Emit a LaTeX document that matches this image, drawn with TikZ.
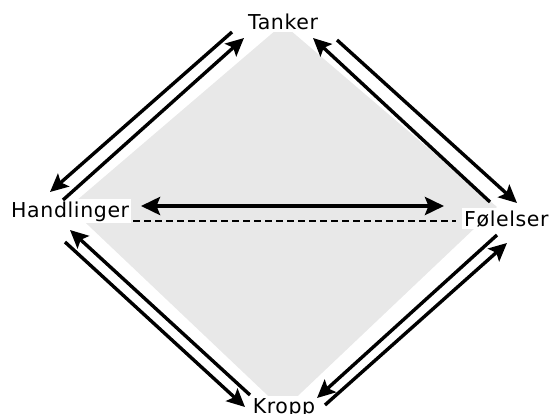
\documentclass[tikz,border=0pt]{standalone}
\usepackage{fontspec}
\usetikzlibrary{arrows.meta}
\newfontfamily\lblfont[LetterSpace=3]{DejaVu Sans}
\definecolor{diamondgray}{RGB}{232,232,232}

\tikzset{
  corner/.style={font=\lblfont\fontsize{20.5}{24}\selectfont, fill=white, inner sep=2pt},
  flow/.style={line width=3.4pt, -{Stealth[length=18pt,width=17pt,inset=3.5pt]}},
  both/.style={line width=3.8pt, {Stealth[length=19pt,width=18pt,inset=3.5pt]}-{Stealth[length=19pt,width=18pt,inset=3.5pt]}},
  axis/.style={line width=1.4pt, dash pattern=on 7pt off 4pt}
}

\begin{document}
\begin{tikzpicture}[x=1pt,y=-1pt]
  \useasboundingbox (0,0) rectangle (551,414);

  % shaded diamond behind everything
  \fill[diamondgray] (283,24) -- (497,207) -- (283,410) -- (69,207) -- cycle;

  % corner labels
  \node[corner, anchor=base] (T) at (283,30) {Tanker};
  \node[corner, anchor=base west] (H) at (9,217) {Handlinger};
  \node[corner, anchor=base west] (F) at (462,226) {Følelser};
  \node[corner, anchor=base] (K) at (284,413) {Kropp};

  % arrow end points
  \coordinate (tl1) at (232,32);  \coordinate (tl2) at (50,192);
  \coordinate (tl3) at (63,200);  \coordinate (tl4) at (244,38);
  \coordinate (tr1) at (490,202); \coordinate (tr2) at (313,38);
  \coordinate (tr3) at (337,40);  \coordinate (tr4) at (517,203);
  \coordinate (bl1) at (250,395); \coordinate (bl2) at (70,230);
  \coordinate (bl3) at (65,242);  \coordinate (bl4) at (245,407);
  \coordinate (br1) at (497,235); \coordinate (br2) at (317,398);
  \coordinate (br3) at (325,405); \coordinate (br4) at (507,243);
  \coordinate (hl) at (141,206);  \coordinate (hr) at (444,206);
  \coordinate (dl) at (133,221);  \coordinate (dr) at (456,221);

  % dashed axis between Handlinger and Følelser
  \draw[axis] (dl) -- (dr);

  % two-way arrows along each side
  \draw[flow] (tl1) -- (tl2);
  \draw[flow] (tl3) -- (tl4);
  \draw[flow] (tr1) -- (tr2);
  \draw[flow] (tr3) -- (tr4);
  \draw[flow] (bl1) -- (bl2);
  \draw[flow] (bl3) -- (bl4);
  \draw[flow] (br1) -- (br2);
  \draw[flow] (br3) -- (br4);

  % horizontal double arrow
  \draw[both] (hl) -- (hr);
\end{tikzpicture}
\end{document}
